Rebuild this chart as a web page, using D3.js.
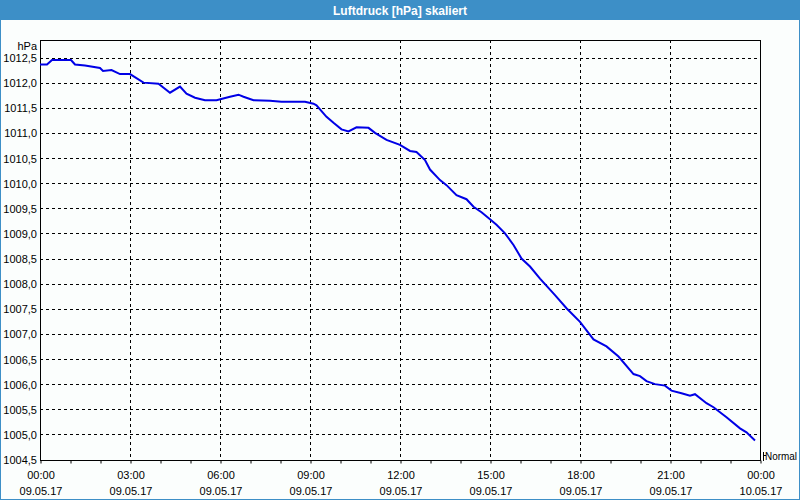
<!DOCTYPE html>
<html><head><meta charset="utf-8">
<script src="https://cdn.jsdelivr.net/npm/d3@7"></script>
<style>
html,body{margin:0;padding:0;background:#fbfefd;}
svg{display:block;}
text{font-family:"Liberation Sans",Arial,sans-serif;}
</style></head>
<body>
<script>
// ---- data ----
const title = "Luftdruck [hPa] skaliert";
const unit = "hPa";
const legendLabel = "Normal";
// minutes since 09.05.17 00:00
const minutes = [0,14,24,62,70,90,120,126,143,160,180,207,237,260,280,293,310,330,353,380,397,407,427,460,483,530,547,553,573,587,603,617,633,657,670,693,720,740,753,770,780,800,813,833,853,867,883,900,913,930,947,963,980,1000,1030,1053,1080,1107,1133,1157,1187,1200,1213,1230,1250,1263,1283,1300,1310,1333,1347,1373,1400,1413,1430];
const pressure = [1012.36,1012.36,1012.45,1012.45,1012.36,1012.34,1012.29,1012.23,1012.25,1012.17,1012.17,1012.00,1011.98,1011.80,1011.92,1011.78,1011.70,1011.65,1011.65,1011.72,1011.76,1011.72,1011.65,1011.64,1011.62,1011.62,1011.58,1011.55,1011.32,1011.20,1011.07,1011.03,1011.11,1011.10,1011.00,1010.86,1010.76,1010.64,1010.62,1010.46,1010.27,1010.06,1009.96,1009.76,1009.68,1009.53,1009.42,1009.28,1009.17,1009.00,1008.77,1008.50,1008.34,1008.10,1007.77,1007.51,1007.24,1006.89,1006.75,1006.55,1006.20,1006.16,1006.06,1006.00,1005.97,1005.87,1005.82,1005.77,1005.80,1005.62,1005.54,1005.34,1005.12,1005.04,1004.88];
const yTicks = [1004.5,1005.0,1005.5,1006.0,1006.5,1007.0,1007.5,1008.0,1008.5,1009.0,1009.5,1010.0,1010.5,1011.0,1011.5,1012.0,1012.5];
const xTickMinutes = [0,180,360,540,720,900,1080,1260,1440];
const xTimeLabels = ["00:00","03:00","06:00","09:00","12:00","15:00","18:00","21:00","00:00"];
const xDateLabels = ["09.05.17","09.05.17","09.05.17","09.05.17","09.05.17","09.05.17","09.05.17","09.05.17","10.05.17"];
const hourTicks = d3.range(0,1441,60);

// ---- layout ----
const W=800,H=500;
const L=40,R=760,T=40,B=460;
const svg=d3.select("body").append("svg").attr("width",W).attr("height",H);
svg.append("rect").attr("x",0).attr("y",0).attr("width",W).attr("height",H).attr("fill","#fbfefd");
svg.append("rect").attr("x",0).attr("y",0).attr("width",W).attr("height",20).attr("fill","#3d8fc7");
svg.append("text").attr("x",400).attr("y",14.5).attr("text-anchor","middle").attr("fill","#fff")
  .attr("font-weight","bold").attr("font-size",12).text(title);

const x=d3.scaleLinear().domain([0,1440]).range([L,R]);
const y=d3.scaleLinear().domain([1004.5,1012.5]).range([459.5,57.5]);

// grid
const g=svg.append("g");
g.selectAll(".hg").data(yTicks).join("line")
  .attr("x1",L).attr("x2",R).attr("y1",d=>Math.round(y(d))+0.5).attr("y2",d=>Math.round(y(d))+0.5)
  .attr("stroke","#000").attr("stroke-dasharray","3,3");
g.selectAll(".vg").data(xTickMinutes.slice(1,-1)).join("line")
  .attr("x1",d=>Math.round(x(d))+0.5).attr("x2",d=>Math.round(x(d))+0.5).attr("y1",T).attr("y2",B)
  .attr("stroke","#000").attr("stroke-dasharray","3,3");

// frame
svg.append("rect").attr("x",L+0.5).attr("y",T+0.5).attr("width",R-L).attr("height",B-T)
  .attr("fill","none").attr("stroke","#000");

// x axis ticks
const xa=svg.append("g").attr("transform",`translate(0,${B+0.5})`)
  .call(d3.axisBottom(x).tickValues(hourTicks).tickSize(3).tickFormat(""));
xa.select(".domain").remove();
xa.selectAll("line").attr("transform","translate(0.5,0)");
svg.selectAll(".xl1").data(xTickMinutes).join("text")
  .attr("x",(d)=>x(d)+1).attr("y",479).attr("text-anchor","middle").attr("font-size",11).attr("fill","#000")
  .text((d,i)=>xTimeLabels[i]);
svg.selectAll(".xl2").data(xTickMinutes).join("text")
  .attr("x",(d)=>x(d)+1).attr("y",495).attr("text-anchor","middle").attr("font-size",11).attr("fill","#000")
  .text((d,i)=>xDateLabels[i]);

// y labels
svg.selectAll(".yl").data(yTicks).join("text")
  .attr("x",37).attr("y",d=>y(d)+4.5).attr("text-anchor","end").attr("font-size",11).attr("fill","#000")
  .text(d=>d3.format(".1f")(d).replace(".",","));
svg.append("text").attr("x",37).attr("y",50).attr("text-anchor","end").attr("font-size",11).text(unit);

// legend marker
svg.append("line").attr("x1",763.5).attr("x2",763.5).attr("y1",452).attr("y2",461).attr("stroke","#000");
svg.append("line").attr("x1",763).attr("x2",766).attr("y1",455.5).attr("y2",455.5).attr("stroke","#000");
svg.append("text").attr("x",765).attr("y",460).attr("font-size",11)
  .attr("textLength",32).attr("lengthAdjust","spacingAndGlyphs").text(legendLabel);

// line
const data=minutes.map((m,i)=>({m,v:pressure[i]}));
svg.append("path").datum(data)
  .attr("d",d3.line().x(d=>x(d.m)).y(d=>y(d.v)))
  .attr("fill","none").attr("stroke","#0000e6").attr("stroke-width",2);

// page border
svg.append("rect").attr("x",0.5).attr("y",0.5).attr("width",W-1).attr("height",H-1).attr("fill","none").attr("stroke","#3d8fc7");
</script>
</body></html>
